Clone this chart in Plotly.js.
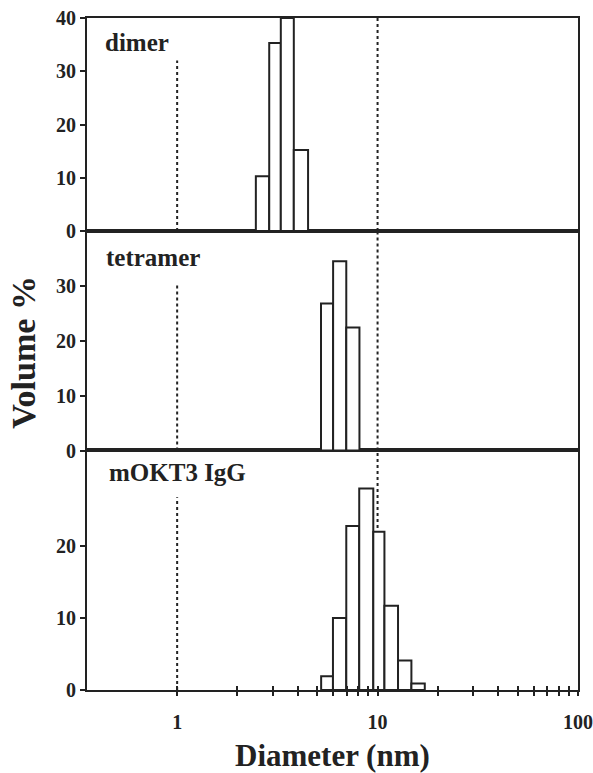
<!DOCTYPE html>
<html>
<head>
<meta charset="utf-8">
<script src="https://cdn.plot.ly/plotly-3.0.1.min.js"></script>
<style>html,body{margin:0;padding:0;background:#fff;}#chart{width:593px;height:773px;}</style>
</head>
<body>
<div id="chart"></div>
<script>
// Bin edges (nm) and volume % for each sample
const dimerEdges = [2.47, 2.88, 3.29, 3.82, 4.50];
const dimerVol = [10.3, 35.3, 40.0, 15.2];
const tetramerEdges = [5.22, 6.00, 6.98, 8.12];
const tetramerVol = [26.8, 34.5, 22.4];
const iggEdges = [5.23, 5.99, 6.98, 8.10, 9.52, 10.82, 12.65, 14.75, 17.2];
const iggVol = [1.9, 10.0, 22.8, 28.0, 22.0, 11.7, 4.1, 0.9];

const panelNames = ['dimer', 'tetramer', 'mOKT3 IgG'];
const xTickVals = [1,2,3,4,5,6,7,8,9,10,20,30,40,50,60,70,80,90,100];
const xTickText = ['1','','','','','','','','','10','','','','','','','','','100'];
const refDiameters = [1, 10];

const FONT = 'Liberation Serif, Times New Roman, serif';
const INK = '#222';

function barTrace(edges, vals, xaxis, yaxis) {
  const left = edges.slice(0, vals.length);
  const widths = left.map((e, i) => edges[i + 1] - e);
  return {
    type: 'bar', x: left, y: vals, width: widths, offset: 0,
    xaxis: xaxis, yaxis: yaxis,
    marker: {color: '#fff', line: {color: INK, width: 2}},
    hoverinfo: 'skip', showlegend: false
  };
}

const data = [
  barTrace(iggEdges, iggVol, 'x', 'y'),
  barTrace(tetramerEdges, tetramerVol, 'x2', 'y2'),
  barTrace(dimerEdges, dimerVol, 'x3', 'y3'),
  {type: 'scatter', x: [], y: [], xaxis: 'x4', yaxis: 'y', showlegend: false, hoverinfo: 'skip'}
];

const xr = [Math.log10(0.355), 2.0];
const yCommon = {
  showline: true, linecolor: INK, linewidth: 2, mirror: true,
  ticks: 'outside', ticklen: 5, tickwidth: 2, tickcolor: INK,
  showgrid: false, zeroline: false, fixedrange: true,
  tickfont: {family: FONT, size: 20, color: INK, weight: 'bold'}
};
const xPlain = {
  type: 'log', range: xr, showline: true, linecolor: INK, linewidth: 2, mirror: true,
  ticks: '', showticklabels: false, showgrid: false, zeroline: false, fixedrange: true
};

const layout = {
  width: 593, height: 773,
  margin: {l: 87, r: 15, t: 18, b: 83},
  paper_bgcolor: '#fff', plot_bgcolor: '#fff',
  showlegend: false,
  xaxis: {
    type: 'log', range: xr, anchor: 'y', side: 'bottom',
    showline: true, linecolor: INK, linewidth: 2, mirror: true,
    ticks: 'outside', ticklen: 4, tickwidth: 2, tickcolor: INK,
    tickvals: xTickVals, ticktext: xTickText, ticklabelstandoff: 9,
    showgrid: false, zeroline: false, fixedrange: true,
    tickfont: {family: FONT, size: 20, color: INK, weight: 'bold'}
  },
  xaxis4: {
    type: 'log', range: xr, overlaying: 'x', anchor: 'y', side: 'bottom',
    showline: false, ticks: 'inside', ticklen: 4, tickwidth: 2, tickcolor: INK,
    tickvals: xTickVals, showticklabels: false,
    showgrid: false, zeroline: false, fixedrange: true
  },
  xaxis2: Object.assign({}, xPlain, {anchor: 'y2'}),
  xaxis3: Object.assign({}, xPlain, {anchor: 'y3'}),
  yaxis: Object.assign({}, yCommon, {anchor: 'x', domain: [0, 0.3564], range: [0, 33.3], tickvals: [0, 10, 20]}),
  yaxis2: Object.assign({}, yCommon, {anchor: 'x2', domain: [0.3564, 0.6830], range: [0, 40], tickvals: [0, 10, 20, 30]}),
  yaxis3: Object.assign({}, yCommon, {anchor: 'x3', domain: [0.6830, 1], range: [0, 40], tickvals: [0, 10, 20, 30, 40]}),
  shapes: [],
  annotations: [
    {text: panelNames[0], xref: 'paper', yref: 'paper', x: 0.033, y: 0.9635, xanchor: 'left', yanchor: 'middle', showarrow: false,
     font: {family: FONT, size: 25, color: INK, weight: 'bold'}},
    {text: panelNames[1], xref: 'paper', yref: 'paper', x: 0.035, y: 0.643, xanchor: 'left', yanchor: 'middle', showarrow: false,
     font: {family: FONT, size: 25, color: INK, weight: 'bold'}},
    {text: panelNames[2], xref: 'paper', yref: 'paper', x: 0.040, y: 0.323, xanchor: 'left', yanchor: 'middle', showarrow: false,
     font: {family: FONT, size: 25, color: INK, weight: 'bold'}},
    {text: 'Volume %', xref: 'paper', yref: 'paper', x: -0.128, y: 0.502, xanchor: 'center', yanchor: 'middle', textangle: -90, showarrow: false,
     font: {family: FONT, size: 34, color: INK, weight: 'bold'}},
    {text: 'Diameter (nm)', xref: 'paper', yref: 'paper', x: 0.5, y: -0.098, xanchor: 'center', yanchor: 'middle', showarrow: false,
     font: {family: FONT, size: 31, color: INK, weight: 'bold'}}
  ]
};

// dotted reference lines at 1 nm (partial height) and 10 nm (full height)
const xrefs = ['x3', 'x2', 'x'];
const yrefs = ['y3', 'y2', 'y'];
const partialTop = [0.80, 0.765, 0.805];
yrefs.forEach((yr, i) => {
  layout.shapes.push({type: 'line', layer: 'below', xref: xrefs[i], yref: yr + ' domain',
    x0: refDiameters[0], x1: refDiameters[0], y0: 0, y1: partialTop[i],
    line: {color: INK, width: 2, dash: 'dot'}});
  layout.shapes.push({type: 'line', layer: 'below', xref: xrefs[i], yref: yr + ' domain',
    x0: refDiameters[1], x1: refDiameters[1], y0: 0, y1: 1,
    line: {color: INK, width: 2, dash: 'dot'}});
});

Plotly.newPlot('chart', data, layout, {displayModeBar: false, staticPlot: true});
</script>
</body>
</html>
